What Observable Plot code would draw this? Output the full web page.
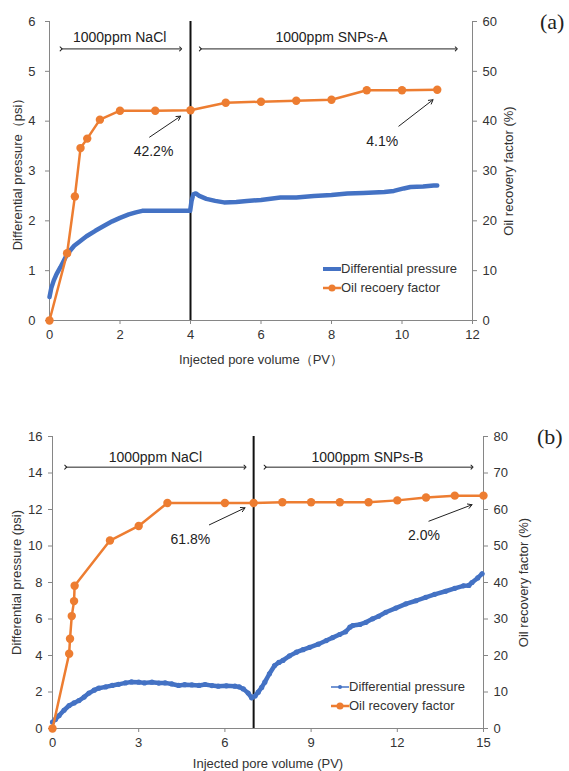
<!DOCTYPE html>
<html><head><meta charset="utf-8">
<script src="https://cdn.jsdelivr.net/npm/d3@7"></script>
<script src="https://cdn.jsdelivr.net/npm/@observablehq/plot@0.6"></script>
<style>
body{margin:0;background:#fff;width:569px;height:771px;overflow:hidden;position:relative;font-family:"Liberation Sans",Arial,sans-serif}
.panel{position:absolute;left:0}
.tag{position:absolute;font-family:"Liberation Serif","Times New Roman",serif;font-size:22px;color:#222}
.legend{position:absolute;font-size:13px;color:#333}
.legend .row{display:flex;align-items:center;height:19px}
.legend svg{display:block}
</style></head><body>
<div id="a" class="panel" style="top:0"></div>
<div id="b" class="panel" style="top:375px"></div>
<div class="tag" style="left:540px;top:9px">(a)</div>
<div class="tag" style="left:537px;top:424px">(b)</div>
<div id="legA" class="legend" style="left:323px;top:259px"></div>
<div id="legB" class="legend" style="left:331px;top:677px"></div>
<script>
// ---------- Panel (a) ----------
const xTicksA = [0, 2, 4, 6, 8, 10, 12];
const dpTicksA = [0, 1, 2, 3, 4, 5, 6];
const recTicksA = [0, 10, 20, 30, 40, 50, 60];
const recPvA = [0, 0.5, 0.72, 0.88, 1.07, 1.43, 2, 3, 4, 5, 6, 7, 8, 9, 10, 11];
const recA   = [0, 13.5, 24.9, 34.6, 36.5, 40.3, 42.1, 42.1, 42.2, 43.7, 43.9, 44.1, 44.3, 46.2, 46.2, 46.3];
const dpPvA = [0, 0.05, 0.12, 0.2, 0.31, 0.5, 0.7, 0.83, 1.05, 1.3, 1.55, 1.78, 2, 2.25, 2.45, 2.63, 3, 3.5, 3.99,
  4.03, 4.08, 4.15, 4.25, 4.45, 4.7, 4.95, 5.3, 5.6, 6, 6.55, 7, 7.5, 8, 8.45, 8.9, 9.2, 9.5, 9.77, 10.05, 10.24, 10.6, 10.9, 11];
const dpA = [0.47, 0.65, 0.8, 0.93, 1.07, 1.33, 1.5, 1.57, 1.69, 1.8, 1.9, 1.99, 2.06, 2.13, 2.17, 2.2, 2.2, 2.2, 2.2,
  2.4, 2.53, 2.55, 2.5, 2.44, 2.4, 2.37, 2.38, 2.4, 2.42, 2.47, 2.47, 2.5, 2.52, 2.55, 2.56, 2.57, 2.58, 2.6, 2.65, 2.68, 2.69, 2.71, 2.71];
const spanLabelsA = ["1000ppm NaCl", "1000ppm SNPs-A"];
const spanFromA = [0.33, 4.28], spanToA = [3.72, 11.54], spanTextXA = [1.99, 8.0];
const calloutLabelsA = ["42.2%", "4.1%"];
const calloutTextA = [[2.95, 3.4], [9.44, 3.6]];
const calloutFromA = [[2.84, 3.68], [9.91, 3.9]];
const calloutToA = [[3.72, 4.1], [10.88, 4.43]];

// ---------- Panel (b) ----------
const xTicksB = [0, 3, 6, 9, 12, 15];
const dpTicksB = [0, 2, 4, 6, 8, 10, 12, 14, 16];
const recTicksB = [0, 10, 20, 30, 40, 50, 60, 70, 80];
const recPvB = [0, 0.58, 0.61, 0.67, 0.75, 0.77, 2, 3, 4, 6, 7, 8, 9, 10, 11, 12, 13, 14, 15];
const recB   = [0, 20.5, 24.6, 30.8, 34.9, 39.1, 51.5, 55.5, 61.8, 61.8, 61.8, 62.0, 62.0, 62.0, 62.0, 62.5, 63.3, 63.8, 63.8];
const dpPvB = [0, 0.1, 0.23, 0.4, 0.58, 0.75, 0.92, 1.1, 1.27, 1.45, 1.61, 1.85, 2.08, 2.3, 2.54, 2.75, 3.0, 3.2, 3.46, 3.7,
  3.92, 4.15, 4.39, 4.6, 4.85, 5.1, 5.31, 5.55, 5.77, 6.05, 6.35, 6.5, 6.64, 6.81, 6.93, 7.05, 7.16, 7.28, 7.39, 7.55,
  7.73, 7.88, 8.02, 8.25, 8.49, 8.72, 8.95, 9.25, 9.53, 9.75, 9.99, 10.2, 10.35, 10.45, 10.7, 10.91, 11.14, 11.35, 11.6,
  11.95, 12.3, 12.65, 12.99, 13.3, 13.68, 14.0, 14.3, 14.49, 14.6, 14.8, 14.95];
const dpB = [0.35, 0.5, 0.71, 1.0, 1.26, 1.4, 1.53, 1.72, 1.94, 2.1, 2.21, 2.28, 2.36, 2.42, 2.5, 2.55, 2.54, 2.5, 2.54, 2.49,
  2.5, 2.44, 2.36, 2.4, 2.39, 2.36, 2.41, 2.35, 2.32, 2.34, 2.32, 2.28, 2.17, 1.94, 1.68, 1.78, 1.99, 2.25, 2.54, 3.0,
  3.45, 3.62, 3.73, 3.98, 4.18, 4.32, 4.45, 4.62, 4.82, 4.98, 5.15, 5.3, 5.55, 5.64, 5.7, 5.82, 6.01, 6.15, 6.37,
  6.6, 6.83, 7.0, 7.19, 7.35, 7.52, 7.68, 7.82, 7.84, 8.0, 8.25, 8.48];
const spanLabelsB = ["1000ppm NaCl", "1000ppm SNPs-B"];
const spanFromB = [0.46, 7.4], spanToB = [6.7, 14.6], spanTextXB = [3.58, 10.96];
const calloutLabelsB = ["61.8%", "2.0%"];
const calloutTextB = [[4.8, 10.35], [12.93, 10.58]];
const calloutFromB = [[5.46, 11.16], [13.1, 11.36]];
const calloutToB = [[6.7, 12.09], [14.6, 12.26]];

const BLUE = "#4472C4", ORANGE = "#ED7D31", AXIS = "#868686", TXT = "#333";

function chart(o) {
  const ratio = o.dpTicks[o.dpTicks.length - 1] / o.recTicks[o.recTicks.length - 1];
  const dpT = o.dpPv.map((x, i) => ({x, y: o.dp[i]}));
  const recT = o.recPv.map((x, i) => ({x, y: o.rec[i] * ratio}));
  const spans = o.spanLabels.map((t, i) => ({t, x1: o.spanFrom[i], x2: o.spanTo[i], tx: o.spanTextX[i]}));
  const callouts = o.calloutLabels.map((t, i) => ({t, tx: o.calloutText[i][0], ty: o.calloutText[i][1],
    x1: o.calloutFrom[i][0], y1: o.calloutFrom[i][1], x2: o.calloutTo[i][0], y2: o.calloutTo[i][1]}));
  const ymax = o.dpTicks[o.dpTicks.length - 1];
  return Plot.plot({
    width: 569, height: o.height,
    marginLeft: o.ml, marginRight: o.mr, marginTop: o.mt, marginBottom: o.mb,
    x: {domain: [o.xTicks[0], o.xTicks[o.xTicks.length - 1]]},
    y: {domain: [0, ymax]},
    style: {fontFamily: "'Liberation Sans', Arial, sans-serif", fontSize: "13px", color: TXT, background: "transparent", overflow: "visible"},
    marks: [
      Plot.ruleY([0], {stroke: AXIS}),
      Plot.ruleX([o.xTicks[0]], {stroke: AXIS}),
      Plot.ruleX([o.xTicks[o.xTicks.length - 1]], {stroke: AXIS}),
      Plot.axisX({ticks: o.xTicks, tickFormat: d => String(d), tickSize: 4, tickPadding: 5, stroke: AXIS, fill: TXT, label: null, fontSize: 13}),
      Plot.axisY({ticks: o.dpTicks, tickFormat: d => String(d), anchor: "left", tickSize: 4, tickPadding: o.padL, stroke: AXIS, fill: TXT, label: null, fontSize: 13}),
      Plot.axisY({ticks: o.recTicks.map(v => v * ratio), anchor: "right", tickFormat: d => String(Math.round(d / ratio)),
        tickSize: 4, tickPadding: o.padR, stroke: AXIS, fill: TXT, label: null, fontSize: 13}),
      Plot.ruleX([o.sep], {stroke: "#111", strokeWidth: 2}),
      Plot.line(dpT, {x: "x", y: "y", stroke: BLUE, strokeWidth: o.dpWidth, curve: "linear"}),
      o.dpDots ? Plot.dot(dpT, {x: "x", y: "y", r: 2.6, fill: BLUE}) : null,
      Plot.line(recT, {x: "x", y: "y", stroke: ORANGE, strokeWidth: 2.5}),
      Plot.dot(recT, {x: "x", y: "y", r: 4.2, fill: ORANGE}),
      Plot.link(spans, {x1: "x1", x2: "x2", y1: () => o.spanY, y2: () => o.spanY, stroke: "#222", strokeWidth: 1,
        markerStart: "arrow", markerEnd: "arrow"}),
      Plot.text(spans, {x: "tx", y: () => o.spanTextY, text: "t", fontSize: 14, fill: "#222", lineAnchor: "middle"}),
      Plot.arrow(callouts, {x1: "x1", y1: "y1", x2: "x2", y2: "y2", stroke: "#222", strokeWidth: 1, headLength: 7}),
      Plot.text(callouts, {x: "tx", y: "ty", text: "t", fontSize: 14, fill: "#222", lineAnchor: "middle"}),
      Plot.text([o.yLabel], {frameAnchor: "left", dx: o.ylDx, rotate: -90, textAnchor: "middle", lineAnchor: "middle", fontSize: 13, fill: TXT}),
      Plot.text([o.y2Label], {frameAnchor: "right", dx: o.y2lDx, rotate: -90, textAnchor: "middle", lineAnchor: "middle", fontSize: 13, fill: TXT}),
      Plot.text([o.xLabel], {frameAnchor: "bottom", dy: o.xlDy, textAnchor: "middle", lineAnchor: "middle", fontSize: 13, fill: TXT})
    ]
  });
}

document.getElementById("a").append(chart({
  height: 375, ml: 49, mr: 97, mt: 21, mb: 55, padL: 10, padR: 6,
  xTicks: xTicksA, dpTicks: dpTicksA, recTicks: recTicksA,
  dpPv: dpPvA, dp: dpA, recPv: recPvA, rec: recA, sep: 4, dpWidth: 4.5, dpDots: false,
  spanLabels: spanLabelsA, spanFrom: spanFromA, spanTo: spanToA, spanTextX: spanTextXA, spanY: 5.45, spanTextY: 5.68,
  calloutLabels: calloutLabelsA, calloutText: calloutTextA, calloutFrom: calloutFromA, calloutTo: calloutToA,
  yLabel: "Differential pressure（psi）", y2Label: "Oil recovery factor (%)", xLabel: "Injected pore volume（PV）",
  ylDx: -32, y2lDx: 36, xlDy: 39
}));

document.getElementById("b").append(chart({
  height: 396, ml: 52, mr: 86, mt: 61, mb: 43, padL: 6, padR: 6,
  xTicks: xTicksB, dpTicks: dpTicksB, recTicks: recTicksB,
  dpPv: dpPvB, dp: dpB, recPv: recPvB, rec: recB, sep: 7, dpWidth: 4.5, dpDots: true,
  spanLabels: spanLabelsB, spanFrom: spanFromB, spanTo: spanToB, spanTextX: spanTextXB, spanY: 14.32, spanTextY: 14.87,
  calloutLabels: calloutLabelsB, calloutText: calloutTextB, calloutFrom: calloutFromB, calloutTo: calloutToB,
  yLabel: "Differential pressure (psi)", y2Label: "Oil recovery factor (%)", xLabel: "Injected pore volume (PV)",
  ylDx: -36, y2lDx: 40, xlDy: 35
}));

function legend(el, names, dotted) {
  const box = document.getElementById(el);
  const rows = [
    {name: names[0], color: BLUE, w: dotted ? 1.5 : 4, dot: dotted ? 2 : 0},
    {name: names[1], color: ORANGE, w: 2.5, dot: 3.5}
  ];
  for (const r of rows) {
    const row = document.createElement("div");
    row.className = "row";
    row.innerHTML = `<svg width="18" height="12"><line x1="0" x2="18" y1="6" y2="6" stroke="${r.color}" stroke-width="${r.w}" stroke-linecap="round"/>${r.dot ? `<circle cx="9" cy="6" r="${r.dot}" fill="${r.color}"/>` : ""}</svg><span>${r.name}</span>`;
    box.append(row);
  }
}
legend("legA", ["Differential pressure", "Oil recoery factor"], false);
legend("legB", ["Differential pressure", "Oil recovery factor"], true);
</script>
</body></html>
